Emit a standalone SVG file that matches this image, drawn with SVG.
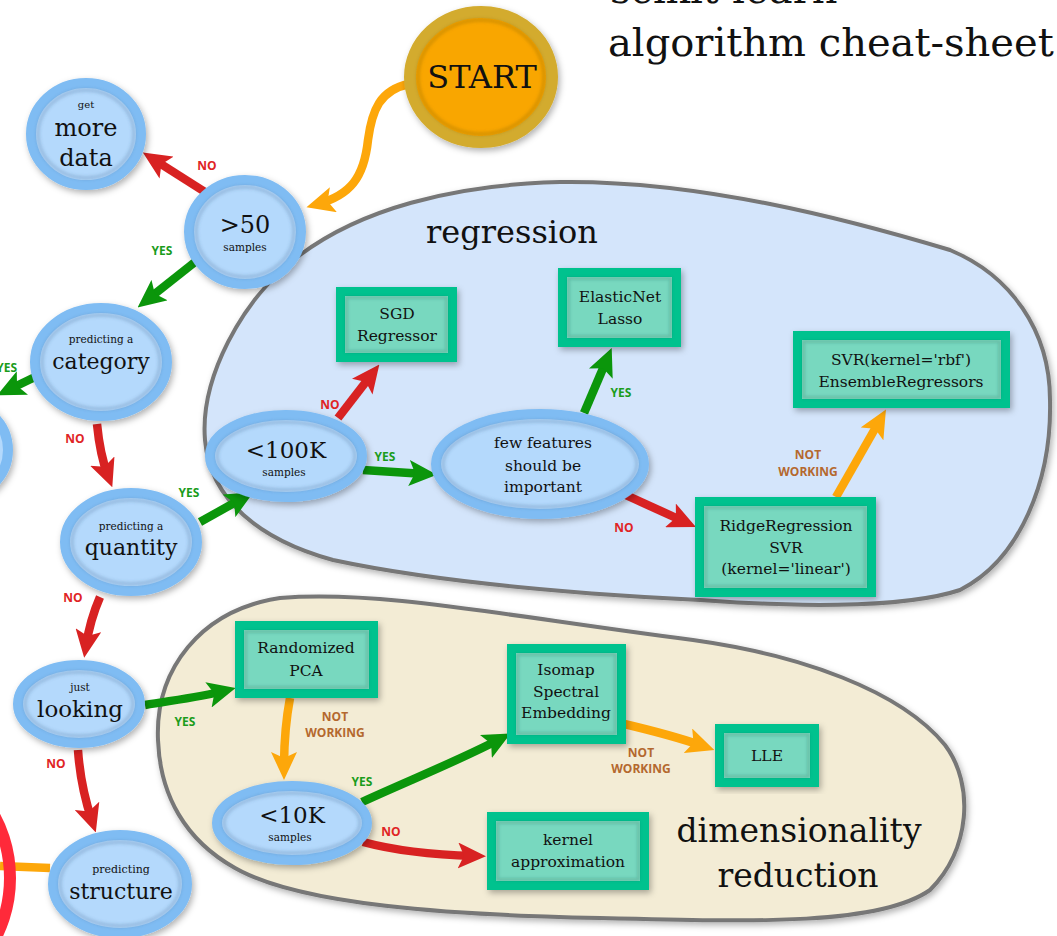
<svg xmlns="http://www.w3.org/2000/svg" width="1057" height="936" viewBox="0 0 1057 936">
<style>
.ttl{font-family:"DejaVu Serif","Liberation Serif",serif;fill:#111}
.nt{font-family:"DejaVu Serif","Liberation Serif",serif;fill:#111;text-anchor:middle}
.bt{font-family:"DejaVu Serif","Liberation Serif",serif;fill:#111;text-anchor:middle;font-size:15.5px}
.bub{fill:#b4d9fc;stroke:#7fbcf3;stroke-width:10}
.bin{fill:none;stroke:#3a5f8a;stroke-opacity:0.22;stroke-width:4}
.box{fill:#78d8bf;stroke:#05c28e;stroke-width:9}
.boxin{fill:none;stroke:#1b5e4a;stroke-opacity:0.22;stroke-width:3}
.lab{font-family:"Open Sans","DejaVu Sans",sans-serif;font-weight:700;font-size:12px;text-anchor:middle}
.yes{fill:#1a9c1a}.no{fill:#e02424}.nw{fill:#b4682e}
.c{fill:none;stroke-width:8.5}
.r{stroke:#d82222}.g{stroke:#0b960b}.o{stroke:#fda70a}
</style>
<defs>
<filter id="sh" x="-20%" y="-20%" width="140%" height="140%"><feDropShadow dx="2" dy="3" stdDeviation="3" flood-color="#000" flood-opacity="0.3"/></filter>
<filter id="bl" x="-10%" y="-10%" width="120%" height="120%"><feGaussianBlur stdDeviation="1.6"/></filter>
<marker id="ar" markerUnits="userSpaceOnUse" markerWidth="28" markerHeight="26" viewBox="0 0 28 26" refX="16" refY="13" orient="auto"><path d="M0,0 L28,13 L0,26 L6,13 Z" fill="#d82222"/></marker>
<marker id="ag" markerUnits="userSpaceOnUse" markerWidth="28" markerHeight="26" viewBox="0 0 28 26" refX="16" refY="13" orient="auto"><path d="M0,0 L28,13 L0,26 L6,13 Z" fill="#0b960b"/></marker>
<marker id="ao" markerUnits="userSpaceOnUse" markerWidth="28" markerHeight="26" viewBox="0 0 28 26" refX="16" refY="13" orient="auto"><path d="M0,0 L28,13 L0,26 L6,13 Z" fill="#fda70a"/></marker>
</defs>
<rect width="1057" height="936" fill="#ffffff"/>

<g id="title">
<text class="ttl" x="610" y="3" font-size="40">scikit-learn</text>
<text class="ttl" x="608" y="56" font-size="40">algorithm cheat-sheet</text>
</g>

<g id="regression-region">
<path d="M205,440 C200,380 240,300 300,255 C360,210 450,185 560,182 C700,180 850,220 950,250 C1010,275 1050,330 1050,400 C1052,480 1020,560 960,590 C900,610 780,606 700,600 C600,595 450,585 333,560 C260,540 210,500 205,440 Z" fill="#d4e5fb" stroke="#777" stroke-width="4" filter="url(#sh)"/>
<text class="nt" x="512" y="243" font-size="32">regression</text>
</g>

<g id="dimensionality-region">
<path d="M158,740 C155,670 200,610 280,598 C380,590 500,615 693,640 C800,655 900,690 945,745 C975,785 970,850 930,890 C880,925 760,922 600,918 C450,915 300,905 235,868 C185,840 160,795 158,740 Z" fill="#f3ecd5" stroke="#777" stroke-width="4" filter="url(#sh)"/>
<text class="nt" x="799" y="842" font-size="33">dimensionality</text>
<text class="nt" x="798" y="887" font-size="33">reduction</text>
</g>

<g id="connectors">
<path class="c o" d="M409,84 C380,90 372,110 368,140 C364,178 350,195 318,204" marker-end="url(#ao)"/>
<path class="c r" d="M205,192 L153,159" marker-end="url(#ar)"/>
<path class="c g" d="M195,262 L147,300" marker-end="url(#ag)"/>
<path class="c g" d="M35,377 L8,390" marker-end="url(#ag)"/>
<path class="c r" d="M97,424 Q100,455 108,476" marker-end="url(#ar)"/>
<path class="c g" d="M200,522 L243,498" marker-end="url(#ag)"/>
<path class="c r" d="M338,418 L372,374" marker-end="url(#ar)"/>
<path class="c g" d="M363,470 L425,474" marker-end="url(#ag)"/>
<path class="c g" d="M584,413 L607,359" marker-end="url(#ag)"/>
<path class="c r" d="M617,491 L685,522" marker-end="url(#ar)"/>
<path class="c o" d="M836,497 L880,420" marker-end="url(#ao)"/>
<path class="c r" d="M100,597 Q90,620 86,646" marker-end="url(#ar)"/>
<path class="c g" d="M145,705 C175,700 200,697 224,691" marker-end="url(#ag)"/>
<path class="c o" d="M290,698 Q284,730 284,768" marker-end="url(#ao)"/>
<path class="c r" d="M78,750 C80,780 85,800 92,821" marker-end="url(#ar)"/>
<path class="c g" d="M362,802 C410,780 460,760 500,739" marker-end="url(#ag)"/>
<path class="c r" d="M363,842 C400,852 440,855 474,856" marker-end="url(#ar)"/>
<path class="c o" d="M620,723 C650,730 680,738 703,746" marker-end="url(#ao)"/>
<path class="c o" d="M50,868 L0,866"/>
<text class="lab no" x="207" y="170">NO</text>
<text class="lab yes" x="162" y="255">YES</text>
<text class="lab yes" x="17" y="372" style="text-anchor:end">YES</text>
<text class="lab no" x="75" y="443">NO</text>
<text class="lab yes" x="189" y="497">YES</text>
<text class="lab no" x="330" y="409">NO</text>
<text class="lab yes" x="385" y="461">YES</text>
<text class="lab yes" x="621" y="397">YES</text>
<text class="lab no" x="624" y="532">NO</text>
<text class="lab nw" x="808" y="459">NOT</text>
<text class="lab nw" x="808" y="476">WORKING</text>
<text class="lab no" x="73" y="602">NO</text>
<text class="lab yes" x="185" y="726">YES</text>
<text class="lab nw" x="335" y="721">NOT</text>
<text class="lab nw" x="335" y="737">WORKING</text>
<text class="lab no" x="56" y="768">NO</text>
<text class="lab yes" x="362" y="786">YES</text>
<text class="lab no" x="391" y="836">NO</text>
<text class="lab nw" x="641" y="757">NOT</text>
<text class="lab nw" x="641" y="773">WORKING</text>
</g>

<g id="highlight">
<ellipse cx="-80" cy="878" rx="90" ry="110" fill="none" stroke="#ff2a3a" stroke-width="12"/>
</g>

<g id="start">
<ellipse cx="481" cy="77" rx="71" ry="65" fill="#f9a602" stroke="#d3ab2e" stroke-width="12" filter="url(#sh)"/>
<ellipse cx="481" cy="77" rx="63" ry="57" fill="none" stroke="#7a5a00" stroke-opacity="0.25" stroke-width="4" filter="url(#bl)"/>
<text class="nt" x="482" y="88" font-size="32">START</text>
</g>

<g id="get-more-data">
<ellipse class="bub" cx="86" cy="134" rx="55" ry="51" filter="url(#sh)"/>
<ellipse class="bin" cx="86" cy="134" rx="48" ry="44" filter="url(#bl)"/>
<text class="nt" x="86" y="108" font-size="10">get</text>
<text class="nt" x="86" y="136" font-size="24">more</text>
<text class="nt" x="86" y="166" font-size="24">data</text>
</g>

<g id="more-than-50">
<ellipse class="bub" cx="245" cy="232" rx="56" ry="52" filter="url(#sh)"/>
<ellipse class="bin" cx="245" cy="232" rx="49" ry="45" filter="url(#bl)"/>
<text class="nt" x="245" y="233" font-size="24">&gt;50</text>
<text class="nt" x="245" y="251" font-size="10.5">samples</text>
</g>

<g id="category">
<ellipse class="bub" cx="101" cy="362" rx="66" ry="54" filter="url(#sh)"/>
<ellipse class="bin" cx="101" cy="362" rx="59" ry="47" filter="url(#bl)"/>
<text class="nt" x="101" y="343" font-size="10.5">predicting a</text>
<text class="nt" x="101" y="369" font-size="22">category</text>
</g>

<g id="left-partial">
<ellipse class="bub" cx="-42" cy="450" rx="50" ry="48" filter="url(#sh)"/>
</g>

<g id="quantity">
<ellipse class="bub" cx="131" cy="542" rx="66" ry="49" filter="url(#sh)"/>
<ellipse class="bin" cx="131" cy="542" rx="59" ry="42" filter="url(#bl)"/>
<text class="nt" x="131" y="530" font-size="10.5">predicting a</text>
<text class="nt" x="131" y="555" font-size="22">quantity</text>
</g>

<g id="less-100k">
<ellipse class="bub" cx="286" cy="456" rx="76" ry="41" filter="url(#sh)"/>
<ellipse class="bin" cx="286" cy="456" rx="69" ry="34" filter="url(#bl)"/>
<text class="nt" x="286" y="458" font-size="23">&lt;100K</text>
<text class="nt" x="284" y="476" font-size="10.5">samples</text>
</g>

<g id="few-features">
<ellipse class="bub" cx="540" cy="464" rx="104" ry="50" filter="url(#sh)"/>
<ellipse class="bin" cx="540" cy="464" rx="97" ry="43" filter="url(#bl)"/>
<text class="nt" x="543" y="448" font-size="15.5">few features</text>
<text class="nt" x="543" y="471" font-size="15.5">should be</text>
<text class="nt" x="543" y="492" font-size="15.5">important</text>
</g>

<g id="just-looking">
<ellipse class="bub" cx="79" cy="704" rx="61" ry="39" filter="url(#sh)"/>
<ellipse class="bin" cx="79" cy="704" rx="54" ry="32" filter="url(#bl)"/>
<text class="nt" x="80" y="691" font-size="10.5">just</text>
<text class="nt" x="80" y="717" font-size="23">looking</text>
</g>

<g id="structure">
<ellipse class="bub" cx="120" cy="884" rx="67" ry="49" filter="url(#sh)"/>
<ellipse class="bin" cx="120" cy="884" rx="60" ry="42" filter="url(#bl)"/>
<text class="nt" x="121" y="873" font-size="11">predicting</text>
<text class="nt" x="121" y="899" font-size="22">structure</text>
</g>

<g id="less-10k">
<ellipse class="bub" cx="292" cy="823" rx="75" ry="37" filter="url(#sh)"/>
<ellipse class="bin" cx="292" cy="823" rx="68" ry="30" filter="url(#bl)"/>
<text class="nt" x="292" y="823" font-size="23">&lt;10K</text>
<text class="nt" x="290" y="841" font-size="10.5">samples</text>
</g>

<g id="sgd-regressor">
<rect class="box" x="340.5" y="291.5" width="112" height="66" filter="url(#sh)"/>
<rect class="boxin" x="346.5" y="297.5" width="100" height="54" filter="url(#bl)"/>
<text class="bt" x="397" y="319">SGD</text>
<text class="bt" x="397" y="341">Regressor</text>
</g>

<g id="elasticnet-lasso">
<rect class="box" x="562.5" y="272.5" width="114" height="70" filter="url(#sh)"/>
<rect class="boxin" x="568.5" y="278.5" width="102" height="58" filter="url(#bl)"/>
<text class="bt" x="620" y="302">ElasticNet</text>
<text class="bt" x="620" y="324">Lasso</text>
</g>

<g id="svr-rbf">
<rect class="box" x="797.5" y="335.5" width="208" height="68" filter="url(#sh)"/>
<rect class="boxin" x="803.5" y="341.5" width="196" height="56" filter="url(#bl)"/>
<text class="bt" x="901" y="365">SVR(kernel='rbf')</text>
<text class="bt" x="901" y="387">EnsembleRegressors</text>
</g>

<g id="ridge-svr">
<rect class="box" x="699.5" y="501.5" width="172" height="91" filter="url(#sh)"/>
<rect class="boxin" x="705.5" y="507.5" width="160" height="79" filter="url(#bl)"/>
<text class="bt" x="786" y="531">RidgeRegression</text>
<text class="bt" x="786" y="553">SVR</text>
<text class="bt" x="786" y="574">(kernel='linear')</text>
</g>

<g id="randomized-pca">
<rect class="box" x="239.5" y="625.5" width="134" height="68" filter="url(#sh)"/>
<rect class="boxin" x="245.5" y="631.5" width="122" height="56" filter="url(#bl)"/>
<text class="bt" x="306" y="653">Randomized</text>
<text class="bt" x="306" y="676">PCA</text>
</g>

<g id="isomap">
<rect class="box" x="511.5" y="648.5" width="110" height="91" filter="url(#sh)"/>
<rect class="boxin" x="517.5" y="654.5" width="98" height="79" filter="url(#bl)"/>
<text class="bt" x="566" y="675">Isomap</text>
<text class="bt" x="566" y="697">Spectral</text>
<text class="bt" x="566" y="718">Embedding</text>
</g>

<g id="lle">
<rect class="box" x="719.5" y="728.5" width="95" height="54" filter="url(#sh)"/>
<rect class="boxin" x="725.5" y="734.5" width="83" height="42" filter="url(#bl)"/>
<text class="bt" x="767" y="761">LLE</text>
</g>

<g id="kernel-approximation">
<rect class="box" x="491.5" y="816.5" width="153" height="69" filter="url(#sh)"/>
<rect class="boxin" x="497.5" y="822.5" width="141" height="57" filter="url(#bl)"/>
<text class="bt" x="568" y="845">kernel</text>
<text class="bt" x="568" y="867">approximation</text>
</g>
</svg>
